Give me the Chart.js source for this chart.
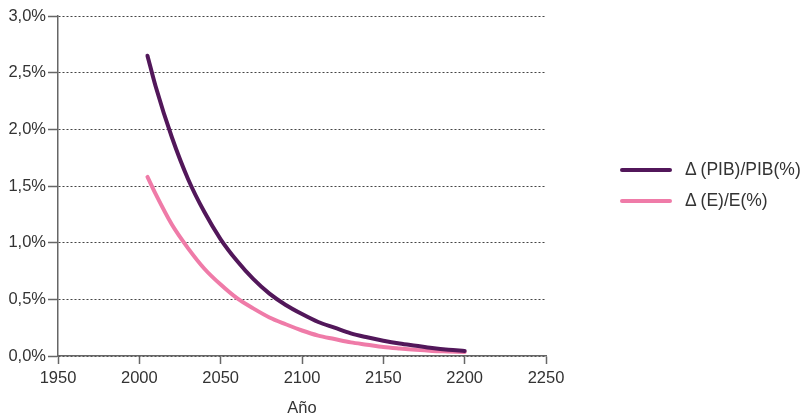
<!DOCTYPE html>
<html>
<head>
<meta charset="utf-8">
<script src="https://cdn.jsdelivr.net/npm/chart.js@4"></script>
<style>
  html, body { margin: 0; padding: 0; background: #fff; }
  #wrap { position: relative; width: 801px; height: 418px; }
  .legend { position: absolute; left: 620px; font-family: "Liberation Sans", Arial, sans-serif; font-size: 17.5px; color: #333; }
  .legend .item { display: flex; align-items: center; height: 31px; }
  .legend .swatch { width: 52px; height: 4px; border-radius: 2px; margin-right: 13px; }
</style>
</head>
<body>
<div id="wrap">
  <canvas id="chart" width="801" height="418"></canvas>
  <div class="legend" style="top:154px">
    <div class="item"><span class="swatch" style="background:#52175a"></span>Δ (PIB)/PIB(%)</div>
    <div class="item"><span class="swatch" style="background:#ef7ba8"></span>Δ (E)/E(%)</div>
  </div>
</div>
<script>
const years = [2005, 2010, 2020, 2030, 2040, 2050, 2060, 2070, 2080, 2090, 2100,
  2110, 2120, 2130, 2140, 2150, 2160, 2170, 2180, 2190, 2200]
const pibValues = [2.65, 2.38, 1.93, 1.56, 1.27, 1.03, 0.84, 0.68, 0.55, 0.45, 0.37,
  0.30, 0.25, 0.20, 0.165, 0.135, 0.11, 0.09, 0.07, 0.055, 0.045]
const energyValues = [1.58, 1.43, 1.16, 0.95, 0.77, 0.63, 0.51, 0.42, 0.34, 0.28, 0.225,
  0.18, 0.15, 0.12, 0.10, 0.08, 0.066, 0.054, 0.045, 0.04, 0.035]
const seriesNames = ['Δ (PIB)/PIB(%)', 'Δ (E)/E(%)']

const font = { family: '"Liberation Sans", Arial, sans-serif', size: 16.5 }

const ctx = document.getElementById('chart').getContext('2d')
new Chart(ctx, {
  type: 'line',
  data: {
    datasets: [
      {
        label: seriesNames[0],
        data: years.map((y, i) => ({ x: y, y: pibValues[i] })),
        borderColor: '#52175a',
        backgroundColor: 'transparent',
        borderWidth: 4,
        borderCapStyle: 'round',
        cubicInterpolationMode: 'monotone',
        pointRadius: 0,
      },
      {
        label: seriesNames[1],
        data: years.map((y, i) => ({ x: y, y: energyValues[i] })),
        borderColor: '#ef7ba8',
        backgroundColor: 'transparent',
        borderWidth: 4,
        borderCapStyle: 'round',
        cubicInterpolationMode: 'monotone',
        pointRadius: 0,
      },
    ],
  },
  options: {
    responsive: false,
    animation: false,
    layout: { padding: { top: 16, right: 255, left: 0, bottom: 0 } },
    plugins: { legend: { display: false }, tooltip: { enabled: false } },
    scales: {
      x: {
        type: 'linear',
        min: 1950,
        max: 2250,
        ticks: { stepSize: 50, color: '#333', font, padding: 5, callback: (v) => String(v) },
        grid: { drawOnChartArea: false, drawTicks: true, tickLength: 8, tickColor: '#666', tickWidth: 1.5 },
        border: { color: '#666', width: 1.5 },
        title: { display: true, text: 'Año', color: '#333', font, padding: { top: 8, bottom: 0 } },
        afterFit: (scale) => { scale.height = 62 },
      },
      y: {
        min: 0,
        max: 3,
        ticks: {
          stepSize: 0.5,
          color: '#333',
          font,
          padding: 2,
          callback: (v) => v.toFixed(1).replace('.', ',') + '%',
        },
        grid: {
          color: '#444',
          lineWidth: 1,
          tickLength: 10,
          tickColor: '#666',
          tickWidth: 1.5,
          tickBorderDash: [],
        },
        border: { color: '#666', width: 1.5, dash: [2, 2] },
        afterFit: (scale) => { scale.width = 58 },
      },
    },
  },
})
</script>
</body>
</html>
